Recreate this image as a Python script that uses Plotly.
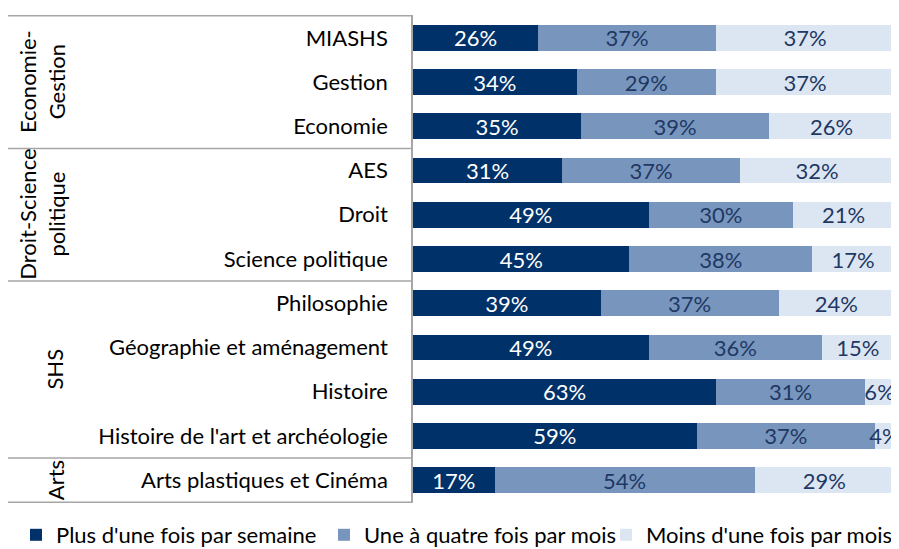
import plotly.graph_objects as go

categories = ["MIASHS", "Gestion", "Economie", "AES", "Droit", "Science politique",
              "Philosophie", "Géographie et aménagement", "Histoire",
              "Histoire de l'art et archéologie", "Arts plastiques et Cinéma"]
plus_semaine = [26, 34, 35, 31, 49, 45, 39, 49, 63, 59, 17]
une_quatre_mois = [37, 29, 39, 37, 30, 38, 37, 36, 31, 37, 54]
moins_mois = [37, 37, 26, 32, 21, 17, 24, 15, 6, 4, 29]
series_names = ["Plus d'une fois par semaine", "Une à quatre fois par mois", "Moins d'une fois par mois"]
groups = ["Economie-<br>Gestion", "Droit-Science<br>politique", "SHS", "Arts"]
group_sizes = [3, 3, 4, 1]

FONT = "Lato"
FS = 22
# page is offset by the 8px body margin: figure coords = page coords - 8
OFF = 8
W, H = 899 - OFF, 549 - OFF
L = 413 - OFF
R = W - (894 - OFF)
T = 15 - OFF
B = H - (503 - OFF)
pw = W - L - R

colors = ["#003169", "#7896BD", "#DCE6F2"]
text_colors = ["white", "#1F3864", "#1F3864"]
legend_ids = ["legend", "legend2", "legend3"]
legend_sq_page_x = [30, 338, 620]

fig = go.Figure()
for name, vals, c, tc, lid in zip(series_names, [plus_semaine, une_quatre_mois, moins_mois],
                                  colors, text_colors, legend_ids):
    fig.add_trace(go.Bar(
        y=categories, x=vals, name=name, orientation="h", legend=lid, showlegend=True,
        marker=dict(color=c, line=dict(width=0)),
        text=[f"{v}%" for v in vals], textposition="inside",
        insidetextanchor="middle", textangle=0, constraintext="none",
        textfont=dict(color=tc, size=FS, family=FONT),
        cliponaxis=False,
    ))

def px2paper(px):
    return (px - OFF - L) / pw

# table lines
bounds = [-0.5]
acc = -0.5
for s in group_sizes:
    acc += s
    bounds.append(acc)
shapes = []
for b in bounds:
    shapes.append(dict(type="line", xref="paper", yref="y", x0=px2paper(8), x1=0,
                       y0=b, y1=b, line=dict(color="#A6A6A6", width=1.5), layer="below"))

annotations = []
start = -0.5
for g, s in zip(groups, group_sizes):
    mid = start + s / 2
    start += s
    xpix = 42 if "<br>" in g else 55
    annotations.append(dict(text=g, xref="paper", yref="y", x=px2paper(xpix), y=mid,
                            showarrow=False, textangle=-90, xanchor="center", yanchor="middle",
                            font=dict(size=FS, family=FONT, color="black")))

legend_y = 1 - (535 - OFF) / H
legends = {}
for lid, sx in zip(legend_ids, legend_sq_page_x):
    legends[lid] = dict(orientation="h", xref="container", yref="container", visible=True,
                        x=(sx - OFF - 14) / W, xanchor="left", y=legend_y, yanchor="middle",
                        font=dict(size=FS, family=FONT, color="black"),
                        bgcolor="rgba(0,0,0,0)")

fig.update_layout(
    barmode="stack", bargap=0.42, showlegend=True,
    width=W, height=H,
    margin=dict(l=L, r=R, t=T, b=B, autoexpand=False),
    plot_bgcolor="white", paper_bgcolor="white",
    font=dict(family=FONT, size=FS, color="black"),
    uniformtext=dict(minsize=FS, mode="show"),
    xaxis=dict(range=[0, 100], showgrid=False, showticklabels=False, zeroline=False, showline=False,
               automargin=False),
    yaxis=dict(autorange="reversed", showgrid=False, showline=True, linecolor="#A6A6A6", linewidth=1.5,
               ticks="", ticklabelstandoff=19, automargin=False,
               tickfont=dict(size=FS, family=FONT, color="black")),
    shapes=shapes, annotations=annotations,
    **legends,
)
fig.write_html("out.html")
